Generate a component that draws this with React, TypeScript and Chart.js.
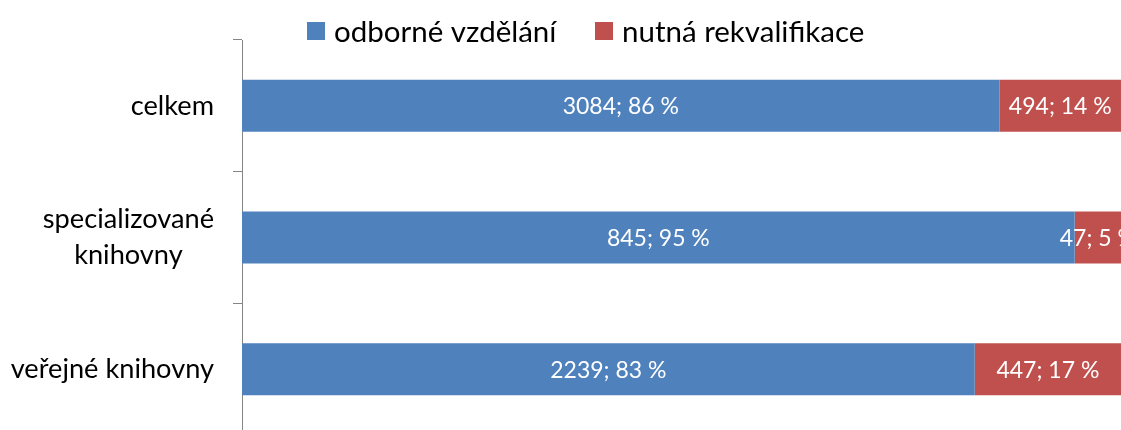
import React, { useEffect, useRef } from "react";
import { Chart, registerables } from "chart.js";

Chart.register(...registerables);

// ---- data ----
const categoryLines: string[][] = [["celkem"], ["specializované", "knihovny"], ["veřejné knihovny"]];
const seriesNames: string[] = ["odborné vzdělání", "nutná rekvalifikace"];
const odborneVzdelani: number[] = [3084, 845, 2239];
const nutnaRekvalifikace: number[] = [494, 47, 447];
const seriesColors: string[] = ["#4F81BD", "#C0504D"];

const FONT = "Lato, 'Open Sans', sans-serif";
const W = 1121;
const H = 435;

const totals = odborneVzdelani.map((v, i) => v + nutnaRekvalifikace[i]);
const rawSeries = [odborneVzdelani, nutnaRekvalifikace];

const legendPlugin = {
  id: "customLegend",
  afterDraw(chart: any) {
    const ctx = chart.ctx;
    ctx.save();
    const xs = [307, 595];
    const sq = 18;
    const cy = 31;
    ctx.font = `29.5px ${FONT}`;
    ctx.textBaseline = "middle";
    ctx.textAlign = "left";
    seriesNames.forEach((name, i) => {
      ctx.fillStyle = seriesColors[i];
      ctx.fillRect(xs[i], cy - sq / 2, sq, sq);
      ctx.fillStyle = "#000000";
      ctx.fillText(name, xs[i] + sq + 9, cy + 1);
    });
    ctx.restore();
  },
};

const categoryLabelPlugin = {
  id: "categoryLabels",
  afterDraw(chart: any) {
    const ctx = chart.ctx;
    const yScale = chart.scales.y;
    ctx.save();
    ctx.font = `27.2px ${FONT}`;
    ctx.fillStyle = "#000000";
    ctx.textBaseline = "middle";
    ctx.textAlign = "center";
    const right = 214;
    const lineH = 36;
    categoryLines.forEach((lines, i) => {
      const cy = yScale.getPixelForValue(i);
      const maxW = Math.max(...lines.map((l) => ctx.measureText(l).width));
      const cx = right - maxW / 2;
      const startY = cy - ((lines.length - 1) * lineH) / 2;
      lines.forEach((l, j) => ctx.fillText(l, cx, startY + j * lineH));
    });
    ctx.restore();
  },
};

const dataLabelPlugin = {
  id: "dataLabels",
  afterDatasetsDraw(chart: any) {
    const ctx = chart.ctx;
    ctx.save();
    ctx.font = `23px ${FONT}`;
    ctx.fillStyle = "#FFFFFF";
    ctx.textAlign = "center";
    ctx.textBaseline = "middle";
    chart.data.datasets.forEach((ds: any, di: number) => {
      const meta = chart.getDatasetMeta(di);
      meta.data.forEach((bar: any, i: number) => {
        const v = rawSeries[di][i];
        const pct = Math.round((v / totals[i]) * 100);
        const cx = (bar.base + bar.x) / 2;
        ctx.fillText(`${v}; ${pct} %`, cx, bar.y + 1);
      });
    });
    ctx.restore();
  },
};

export default function App() {
  const ref = useRef<HTMLCanvasElement | null>(null);

  useEffect(() => {
    document.body.style.margin = "0";
    if (!ref.current) return;
    const chart = new Chart(ref.current, {
      type: "bar",
      data: {
        labels: categoryLines.map((l) => l.join(" ")),
        datasets: rawSeries.map((s, di) => ({
          label: seriesNames[di],
          data: s.map((v, i) => (v / totals[i]) * 100),
          backgroundColor: seriesColors[di],
          borderWidth: 0,
          categoryPercentage: 1,
          barPercentage: 0.395,
        })),
      },
      options: {
        indexAxis: "y",
        responsive: false,
        animation: false,
        devicePixelRatio: 1,
        layout: { padding: { top: 40, right: 0, bottom: 0, left: 0 } },
        plugins: {
          legend: { display: false },
          tooltip: { enabled: false },
          title: { display: false },
        },
        scales: {
          x: { stacked: true, min: 0, max: 100, display: false },
          y: {
            stacked: true,
            grid: {
              offset: true,
              drawOnChartArea: false,
              drawTicks: true,
              tickLength: 9,
              color: "#868686",
              lineWidth: 1,
            },
            border: { display: true, color: "#868686", width: 1 },
            ticks: { display: false },
            afterFit: (s: any) => {
              s.width = 242;
            },
          },
        },
      },
      plugins: [legendPlugin, categoryLabelPlugin, dataLabelPlugin],
    } as any);
    return () => chart.destroy();
  }, []);

  return (
    <div style={{ position: "relative", width: W, height: 430, overflow: "hidden", background: "#fff" }}>
      <canvas ref={ref} width={W} height={H} style={{ display: "block", width: W, height: H }} />
    </div>
  );
}
